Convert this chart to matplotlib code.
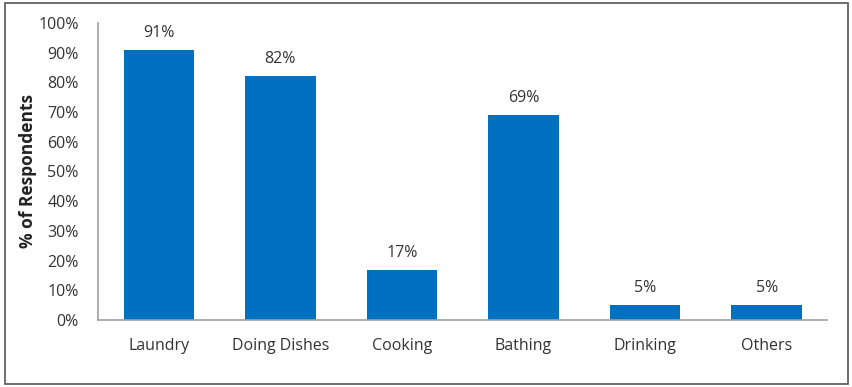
import matplotlib.pyplot as plt
from matplotlib.patches import Rectangle
from matplotlib.ticker import FuncFormatter

categories = ['Laundry', 'Doing Dishes', 'Cooking', 'Bathing', 'Drinking', 'Others']
values = [91, 82, 17, 69, 5, 5]

plt.rcParams['font.family'] = ['Open Sans', 'DejaVu Sans']

fig = plt.figure(figsize=(8.53, 3.87), dpi=100)
ax = fig.add_axes([0.115, 0.173, 0.855, 0.768])

bars = ax.bar(range(len(categories)), values, width=0.58, color='#0070C0')
for i, v in enumerate(values):
    ax.text(i, v + 3, f'{v}%', ha='center', va='bottom', fontsize=11.5, color='#333333')

ax.set_xlim(-0.5, len(categories) - 0.5)
ax.set_ylim(0, 100)
ax.set_yticks(range(0, 101, 10))
ax.yaxis.set_major_formatter(FuncFormatter(lambda y, p: f'{int(y)}%'))
ax.set_xticks(range(len(categories)))
ax.set_xticklabels(categories)
ax.tick_params(axis='both', length=0, labelsize=11.5, colors='#333333')
ax.tick_params(axis='x', pad=13)
ax.tick_params(axis='y', pad=14)
ax.set_ylabel('% of Respondents', fontsize=12.5, fontweight='bold', color='#222222', labelpad=1)

for s in ['top', 'right']:
    ax.spines[s].set_visible(False)
for s in ['left', 'bottom']:
    ax.spines[s].set_color('#a0a0a0')
    ax.spines[s].set_linewidth(1.2)

fig.patches.append(Rectangle((0.006, 0.008), 0.988, 0.984, transform=fig.transFigure,
                             fill=False, edgecolor='#555555', linewidth=1.2))

fig.savefig('out.png', dpi=100)
